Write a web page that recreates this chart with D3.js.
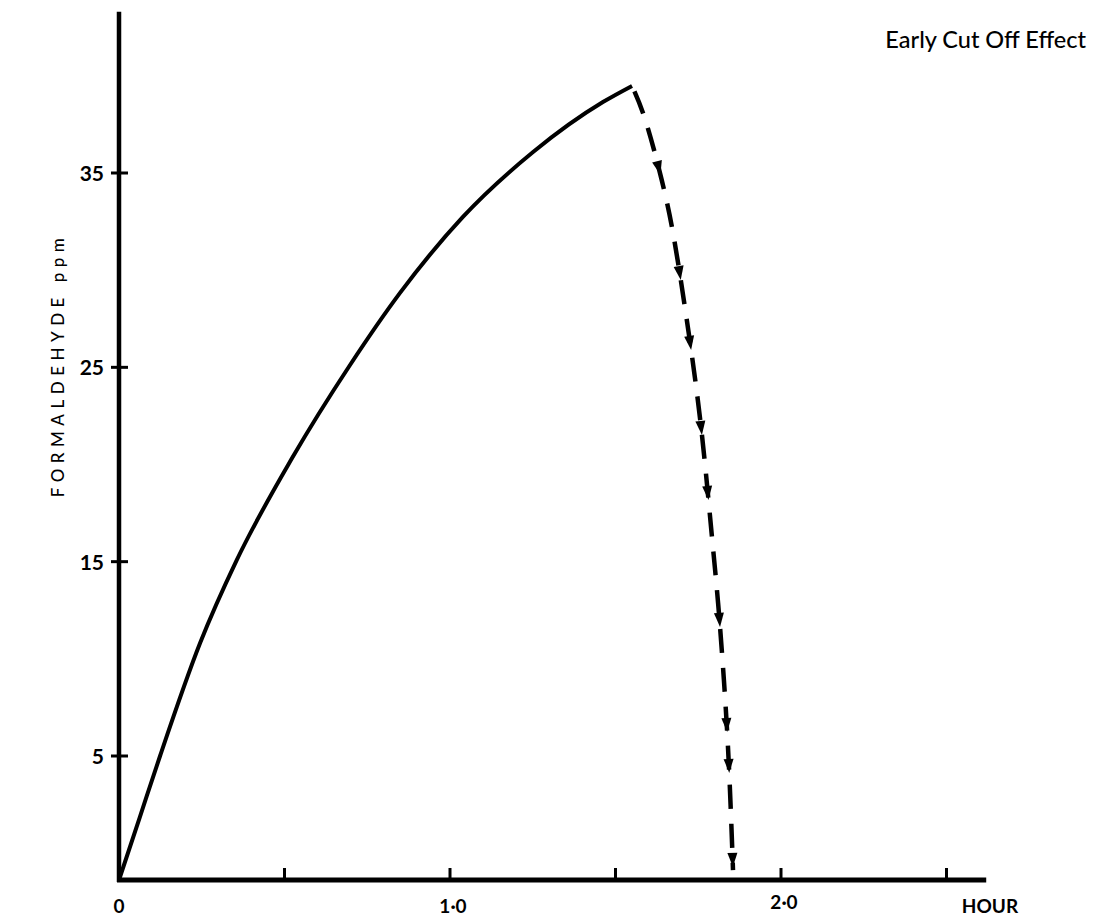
<!DOCTYPE html>
<html>
<head>
<meta charset="utf-8">
<script src="https://cdn.jsdelivr.net/npm/d3@7"></script>
<style>
  html, body { margin: 0; padding: 0; background: #fff; }
  svg { display: block; }
  text { font-family: Lato, "Open Sans", sans-serif; fill: #000; }
</style>
</head>
<body>
<svg id="chart" width="1098" height="919"></svg>
<script>
// ---- data ----
const title = "Early Cut Off Effect";
const yAxisLabel = "FORMALDEHYDE  ppm";
const xAxisLabel = "HOUR";
const yTicks = [5, 15, 25, 35];
const xTicks = [0, 0.5, 1.0, 1.5, 2.0, 2.5];
const xTickLabels = [{v: 0, t: "0"}, {v: 1.0, t: "1·0"}, {v: 2.0, t: "2·0"}];
// solid rise (hours, ppm)
const riseHours = [0, 0.063, 0.124, 0.245, 0.356, 0.523, 0.698, 0.849, 1.039, 1.251, 1.462, 1.550];
const risePpm   = [0, 2.54, 5.0, 10.81, 15.09, 20.33, 25.12, 28.83, 32.74, 36.08, 38.65, 39.48];
// dashed decay after cut-off
const fallHours = [1.550, 1.589, 1.643, 1.674, 1.710, 1.746, 1.770, 1.792, 1.810, 1.828, 1.843, 1.855];
const fallPpm   = [39.48, 37.99, 34.49, 32.07, 28.11, 23.84, 20.23, 16.12, 13.03, 8.91, 4.84, 0.4];
// ppm levels where arrowheads sit on the dashed decay
const arrowPpm = [35.16, 29.75, 26.15, 21.78, 18.43, 11.90, 6.49, 4.52, 0.73];

// ---- scales ----
const svg = d3.select("#chart");
const x = d3.scaleLinear().domain([0, 2.5]).range([119, 946.5]);
const y = d3.scaleLinear().domain([0, 5, 35]).range([880, 756, 173]);
const xMax = 2.62, yMax = 43.3;

// ---- axes ----
const g = svg.append("g");
g.append("line")
  .attr("x1", x(0)).attr("x2", x(0))
  .attr("y1", y(yMax)).attr("y2", y(0) + 2)
  .attr("stroke", "#000").attr("stroke-width", 4.5);
g.append("line")
  .attr("x1", x(0) - 2).attr("x2", x(xMax))
  .attr("y1", y(0)).attr("y2", y(0))
  .attr("stroke", "#000").attr("stroke-width", 5);

g.selectAll(".ytick").data(yTicks).join("line")
  .attr("x1", x(0) - 8).attr("x2", x(0) + 9)
  .attr("y1", d => y(d)).attr("y2", d => y(d))
  .attr("stroke", "#000").attr("stroke-width", 3);
g.selectAll(".ylab").data(yTicks).join("text")
  .attr("x", x(0) - 15).attr("y", d => y(d) + 8)
  .attr("text-anchor", "end")
  .attr("font-size", 21).attr("font-weight", 700)
  .text(d => d);

g.selectAll(".xtick").data(xTicks.filter(d => d > 0)).join("line")
  .attr("x1", d => x(d)).attr("x2", d => x(d))
  .attr("y1", y(0)).attr("y2", y(0) - 12)
  .attr("stroke", "#000").attr("stroke-width", 3);
g.selectAll(".xlab").data(xTickLabels).join("text")
  .attr("x", d => x(d.v) + (d.v === 0 ? 0 : 3)).attr("y", (d, i) => i === 2 ? 909 : 913)
  .attr("text-anchor", "middle")
  .attr("font-size", 19).attr("font-weight", 700)
  .text(d => d.t);
g.append("text")
  .attr("x", 990).attr("y", 913)
  .attr("text-anchor", "middle")
  .attr("font-size", 19).attr("font-weight", 700)
  .text(xAxisLabel);

g.append("text")
  .attr("transform", `translate(64,365) rotate(-90)`)
  .attr("text-anchor", "middle")
  .attr("font-size", 17)
  .attr("font-weight", 500)
  .attr("letter-spacing", 5.5)
  .text(yAxisLabel);

g.append("text")
  .attr("x", 1086).attr("y", 48)
  .attr("text-anchor", "end")
  .attr("font-size", 23.5)
  .attr("font-weight", 500)
  .text(title);

// ---- curves ----
const rise = riseHours.map((h, i) => [h, risePpm[i]]);
const fall = fallHours.map((h, i) => [h, fallPpm[i]]);

svg.append("path")
  .attr("d", d3.line().x(d => x(d[0])).y(d => y(d[1])).curve(d3.curveMonotoneX)(rise))
  .attr("fill", "none").attr("stroke", "#000")
  .attr("stroke-width", 4).attr("stroke-linejoin", "round");

const fallPath = svg.append("path")
  .attr("d", d3.line().x(d => x(d[0])).y(d => y(d[1])).curve(d3.curveBasis)(fall))
  .attr("fill", "none").attr("stroke", "#000")
  .attr("stroke-width", 4.5)
  .attr("stroke-dasharray", "24 15")
  .attr("stroke-dashoffset", -6);

const node = fallPath.node();
const total = node.getTotalLength();
function lengthAtY(py) {
  let lo = 0, hi = total;
  for (let k = 0; k < 40; k++) {
    const mid = (lo + hi) / 2;
    if (node.getPointAtLength(mid).y < py) lo = mid; else hi = mid;
  }
  return (lo + hi) / 2;
}
arrowPpm.forEach(v => {
  const L = lengthAtY(y(v));
  const p = node.getPointAtLength(L);
  const q = node.getPointAtLength(Math.max(0, L - 2));
  const ang = Math.atan2(p.y - q.y, p.x - q.x) * 180 / Math.PI;
  svg.append("path")
    .attr("d", "M5,0 L-9,-5 L-9,5 Z")
    .attr("transform", `translate(${p.x},${p.y}) rotate(${ang})`)
    .attr("fill", "#000");
});
</script>
</body>
</html>
